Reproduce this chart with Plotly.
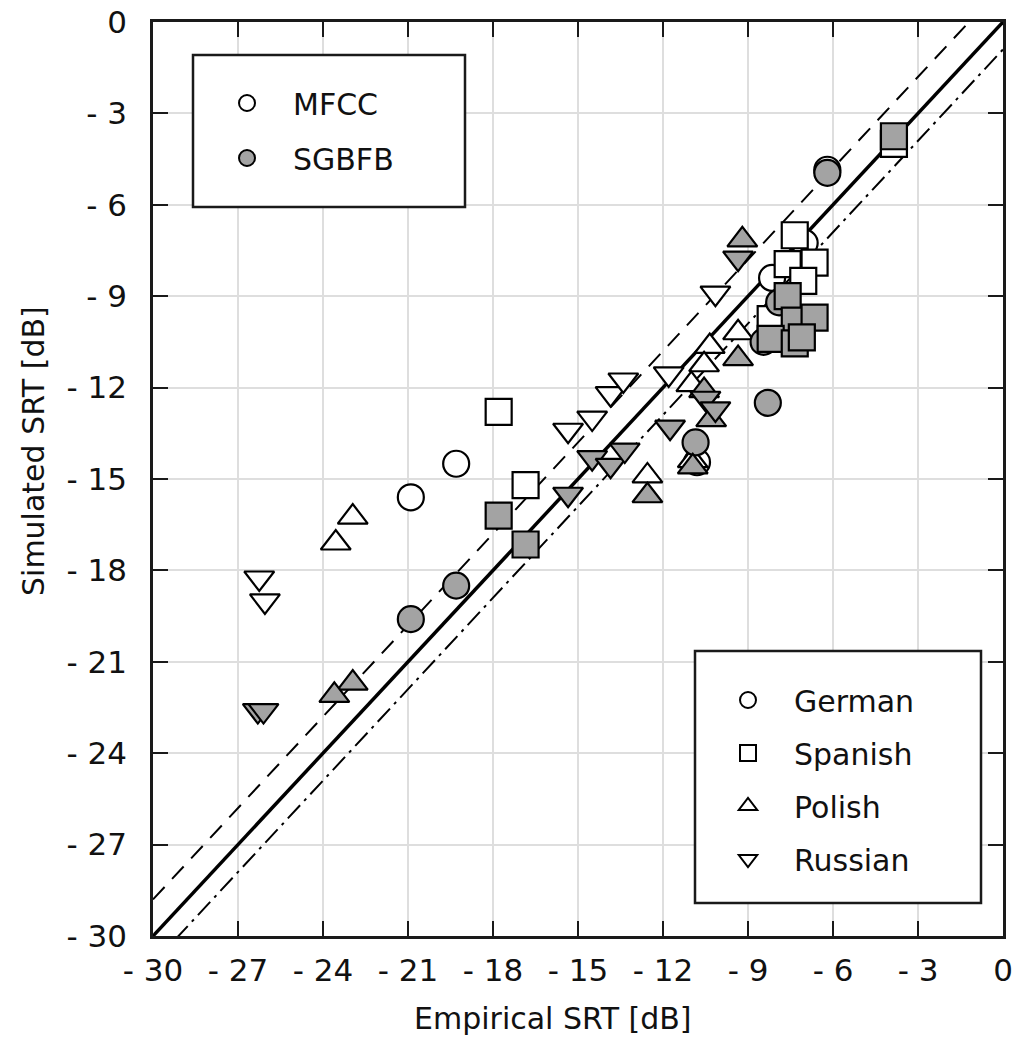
import plotly.graph_objects as go

# ---------------- data ----------------
tick_vals = [-30, -27, -24, -21, -18, -15, -12, -9, -6, -3, 0]
tick_text = ["- 30", "- 27", "- 24", "- 21", "- 18", "- 15", "- 12", "- 9", "- 6", "- 3", "0"]

# MFCC (open markers)
mfcc_german_x = [-19.3, -20.9, -10.8, -6.2, -8.15, -7.0]
mfcc_german_y = [-14.5, -15.6, -14.45, -4.85, -8.4, -7.25]
mfcc_spanish_x = [-3.85, -7.35, -7.6, -6.65, -7.05, -8.2, -17.8, -16.85]
mfcc_spanish_y = [-4.0, -7.0, -7.95, -7.9, -8.5, -9.75, -12.8, -15.2]
mfcc_polish_x = [-9.35, -10.35, -10.55, -11.0, -12.55, -10.95, -22.95, -23.55]
mfcc_polish_y = [-10.2, -10.65, -11.25, -11.9, -14.9, -14.4, -16.25, -17.1]
mfcc_russian_x = [-26.25, -26.05, -15.35, -14.5, -13.85, -13.4, -11.8, -10.15]
mfcc_russian_y = [-18.25, -19.0, -13.4, -13.0, -12.2, -11.75, -11.55, -8.9]

# SGBFB (gray markers)
sgbfb_german_x = [-6.2, -10.85, -8.3, -19.3, -20.9, -7.9, -8.45]
sgbfb_german_y = [-4.95, -13.8, -12.5, -18.5, -19.6, -9.2, -10.5]
sgbfb_spanish_x = [-3.85, -7.6, -7.35, -6.65, -8.2, -7.35, -7.1, -17.8, -16.85]
sgbfb_spanish_y = [-3.75, -9.0, -9.8, -9.7, -10.4, -10.55, -10.35, -16.2, -17.15]
sgbfb_polish_x = [-9.2, -9.35, -10.55, -10.3, -12.55, -10.95, -22.95, -23.6]
sgbfb_polish_y = [-7.15, -11.05, -12.1, -13.05, -15.55, -14.6, -21.7, -22.1]
sgbfb_russian_x = [-9.35, -14.5, -13.85, -13.35, -15.35, -11.75, -10.5, -10.15, -26.3, -26.1]
sgbfb_russian_y = [-7.75, -14.3, -14.55, -14.05, -15.5, -13.3, -12.35, -12.7, -22.6, -22.6]

# reference lines: y = x + offset
line_x = [-30, 0]
identity_offset = 0.0
upper_offset = 1.2
lower_offset = -0.9

feature_names = ["MFCC", "SGBFB"]
language_names = ["German", "Spanish", "Polish", "Russian"]

# ---------------- styling ----------------
FONT = "DejaVu Sans"
WHITE = "#ffffff"
GRAY = "#a3a3a3"
MS = 26
symbols = {"German": "circle", "Spanish": "square", "Polish": "triangle-up", "Russian": "triangle-down"}

fig = go.Figure()

fig.add_trace(go.Scatter(x=line_x, y=[v + upper_offset for v in line_x], mode="lines",
                         line=dict(color="black", width=2, dash="17px,11px"), showlegend=False, hoverinfo="skip"))
fig.add_trace(go.Scatter(x=line_x, y=[v + lower_offset for v in line_x], mode="lines",
                         line=dict(color="black", width=2, dash="18px,6px,3px,6px"), showlegend=False, hoverinfo="skip"))
fig.add_trace(go.Scatter(x=line_x, y=[v + identity_offset for v in line_x], mode="lines",
                         line=dict(color="black", width=3.5), showlegend=False, hoverinfo="skip"))

series = [
    ("MFCC", "German", mfcc_german_x, mfcc_german_y, WHITE),
    ("MFCC", "Spanish", mfcc_spanish_x, mfcc_spanish_y, WHITE),
    ("MFCC", "Polish", mfcc_polish_x, mfcc_polish_y, WHITE),
    ("MFCC", "Russian", mfcc_russian_x, mfcc_russian_y, WHITE),
    ("SGBFB", "German", sgbfb_german_x, sgbfb_german_y, GRAY),
    ("SGBFB", "Spanish", sgbfb_spanish_x, sgbfb_spanish_y, GRAY),
    ("SGBFB", "Polish", sgbfb_polish_x, sgbfb_polish_y, GRAY),
    ("SGBFB", "Russian", sgbfb_russian_x, sgbfb_russian_y, GRAY),
]
for feat, lang, xs, ys, col in series:
    fig.add_trace(go.Scatter(
        x=xs, y=ys, mode="markers", name=f"{feat} {lang}", showlegend=False,
        marker=dict(symbol=symbols[lang], size=MS, color=col, line=dict(color="black", width=2.2)),
        cliponaxis=False))

# legend entries
for feat, col in zip(feature_names, [WHITE, GRAY]):
    fig.add_trace(go.Scatter(x=[None], y=[None], mode="markers", name=feat, legend="legend",
                             legendgroup=feat, showlegend=True,
                             marker=dict(symbol="circle", size=MS, color=col, line=dict(color="black", width=2))))
for lang in language_names:
    fig.add_trace(go.Scatter(x=[None], y=[None], mode="markers", name=lang, legend="legend2",
                             legendgroup=lang, showlegend=True,
                             marker=dict(symbol=symbols[lang], size=MS, color=WHITE, line=dict(color="black", width=2))))

L, R, T, B = 153, 12, 22, 106
W, H = 1015, 1042
pw, ph = W - L - R, H - T - B


def px_x(p):
    return (p - L) / pw


def px_y(p):
    return (H - B - p) / ph


axis_common = dict(
    range=[-30, 0], tickvals=tick_vals, ticktext=tick_text, automargin=False,
    showgrid=True, gridcolor="#dedede", gridwidth=2, zeroline=False,
    showline=True, linecolor="#1a1a1a", linewidth=2.5, mirror="ticks",
    ticks="inside", ticklen=15, tickwidth=2, tickcolor="#1a1a1a",
    tickfont=dict(family=FONT, size=31, color="#111111"),
)

fig.update_layout(
    width=W, height=H,
    margin=dict(l=L, r=R, t=T, b=B, pad=0, autoexpand=False),
    paper_bgcolor="white", plot_bgcolor="white",
    font=dict(family=FONT, color="#111111"),
    xaxis=dict(**axis_common, ticklabelstandoff=5),
    yaxis=dict(**axis_common, ticklabelstandoff=17),
    legend=dict(x=px_x(201), y=px_y(77), xanchor="left", yanchor="top",
                bgcolor="rgba(0,0,0,0)", borderwidth=0, itemwidth=82,
                tracegroupgap=13, traceorder="grouped",
                font=dict(family=FONT, size=30, color="#111111")),
    legend2=dict(x=px_x(702), y=px_y(674), xanchor="left", yanchor="top",
                 bgcolor="rgba(0,0,0,0)", borderwidth=0, itemwidth=82,
                 tracegroupgap=11, traceorder="grouped",
                 font=dict(family=FONT, size=30, color="#111111")),
    shapes=[
        dict(type="rect", xref="paper", yref="paper", x0=px_x(193), x1=px_x(465), y0=px_y(207), y1=px_y(55),
             line=dict(color="#1a1a1a", width=2.5), fillcolor="white", layer="above"),
        dict(type="rect", xref="paper", yref="paper", x0=px_x(695), x1=px_x(981), y0=px_y(903), y1=px_y(651),
             line=dict(color="#1a1a1a", width=2.5), fillcolor="white", layer="above"),
    ],
    annotations=[
        dict(text="Empirical SRT [dB]", xref="paper", yref="paper", x=px_x(553), y=px_y(1018),
             xanchor="center", yanchor="middle", showarrow=False,
             font=dict(family=FONT, size=30, color="#111111")),
        dict(text="Simulated SRT [dB]", xref="paper", yref="paper", x=px_x(33), y=px_y(451),
             xanchor="center", yanchor="middle", showarrow=False, textangle=-90,
             font=dict(family=FONT, size=30, color="#111111")),
    ],
)

fig.write_html("out.html")
